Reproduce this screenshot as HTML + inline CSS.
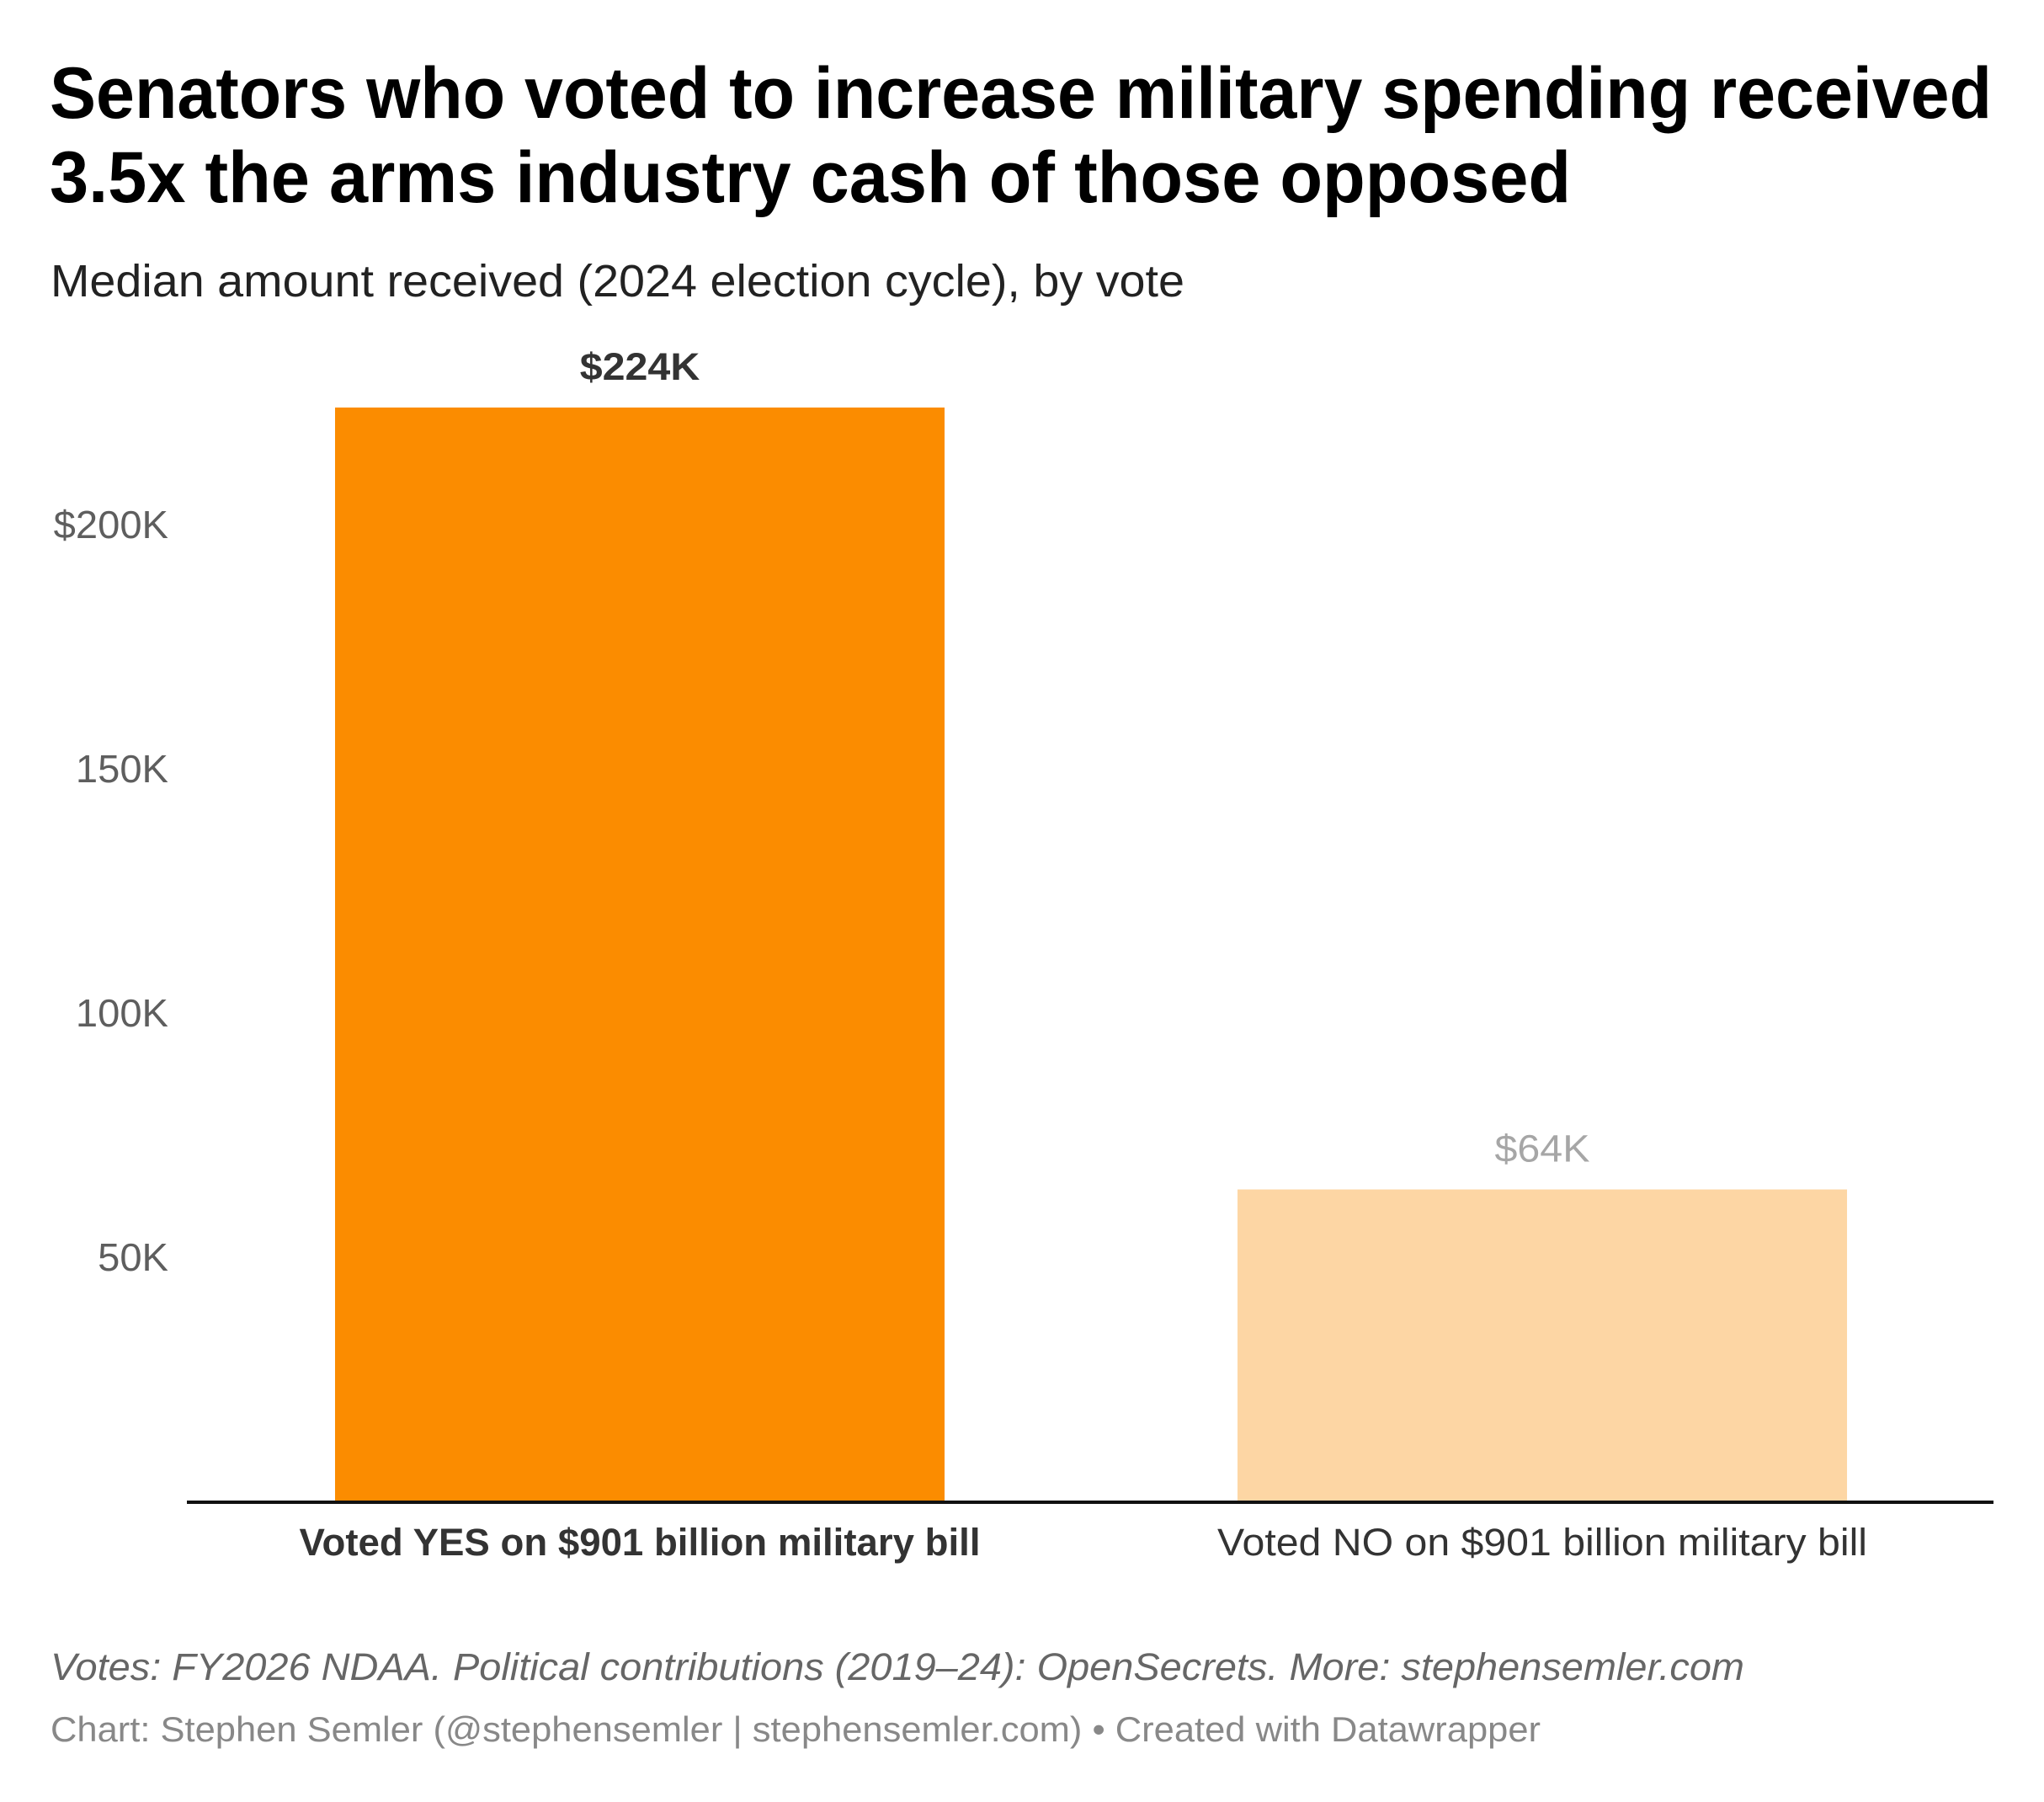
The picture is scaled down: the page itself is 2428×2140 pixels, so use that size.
<!DOCTYPE html>
<html lang="en">
<head>
<meta charset="utf-8">
<title>Senators who voted to increase military spending received 3.5x the arms industry cash of those opposed</title>
<style>
html,body{margin:0;padding:0;background:#fff;width:2428px;height:2140px;overflow:hidden}
svg{display:block}
text{font-family:"Liberation Sans",sans-serif}
</style>
</head>
<body>
<svg id="chart" xmlns="http://www.w3.org/2000/svg" width="2428" height="2140" viewBox="0 0 2428 2140">
  <rect x="0" y="0" width="2428" height="2140" fill="#ffffff"/>
  <text x="59" y="140" font-size="86" font-weight="700" fill="#000000" textLength="2307" lengthAdjust="spacingAndGlyphs">Senators who voted to increase military spending received</text>
  <text x="59" y="240" font-size="86" font-weight="700" fill="#000000" textLength="1807" lengthAdjust="spacingAndGlyphs">3.5x the arms industry cash of those opposed</text>
  <text x="60" y="352" font-size="54" fill="#222222" textLength="1347" lengthAdjust="spacingAndGlyphs">Median amount received (2024 election cycle), by vote</text>
  <g id="y-axis"></g>
  <g id="bars"></g>
  <line x1="222" y1="1784" x2="2368" y2="1784" stroke="#111111" stroke-width="4"/>
  <g id="x-axis"></g>
  <text x="60" y="1995" font-size="45" font-style="italic" fill="#666666" textLength="2012" lengthAdjust="spacingAndGlyphs">Votes: FY2026 NDAA. Political contributions (2019–24): OpenSecrets. More: stephensemler.com</text>
  <text x="60" y="2068" font-size="42" fill="#888888" textLength="1770" lengthAdjust="spacingAndGlyphs">Chart: Stephen Semler (@stephensemler | stephensemler.com) • Created with Datawrapper</text>
</svg>
<script>
const categories = ["Voted YES on $901 billion military bill", "Voted NO on $901 billion military bill"];
const seriesValues = [223.8, 63.7];
const valueLabels = ["$224K", "$64K"];
const tickValues = [50, 100, 150, 200];
const tickLabels = ["50K", "100K", "150K", "$200K"];

const NS = "http://www.w3.org/2000/svg";
const baselineY = 1782;
const pixelsPerThousand = 5.8;
const plotLeft = 224;
const plotRight = 2368;
const bandFraction = 0.6754;

function yScale(v) { return baselineY - v * pixelsPerThousand; }
function bandWidth() { return (plotRight - plotLeft) / categories.length; }
function xCenter(i) { return plotLeft + bandWidth() * (i + 0.5); }

function makeText(content, x, y, size, fill, anchor, weight) {
  const t = document.createElementNS(NS, "text");
  t.textContent = content;
  t.setAttribute("x", x);
  t.setAttribute("y", y);
  t.setAttribute("font-size", size);
  t.setAttribute("fill", fill);
  t.setAttribute("text-anchor", anchor);
  t.setAttribute("font-weight", weight);
  return t;
}

function stretch(t, factor) {
  t.setAttribute("textLength", t.getComputedTextLength() * factor);
  t.setAttribute("lengthAdjust", "spacingAndGlyphs");
}

const yAxis = document.getElementById("y-axis");
tickValues.forEach(function (v, i) {
  const t = makeText(tickLabels[i], 200, yScale(v) + 17, 46, "#5e5e5e", "end", 400);
  
  
  yAxis.appendChild(t);
  stretch(t, 1.025);
});

const barsGroup = document.getElementById("bars");
const barFills = ["#fb8c00", "#fdd6a4"];
const valueFills = ["#333333", "#a6a6a6"];
const valueWeights = [700, 400];
seriesValues.forEach(function (v, i) {
  const w = bandWidth() * bandFraction;
  const r = document.createElementNS(NS, "rect");
  r.setAttribute("x", xCenter(i) - w / 2);
  r.setAttribute("y", yScale(v));
  r.setAttribute("width", w);
  r.setAttribute("height", baselineY - yScale(v));
  r.setAttribute("fill", barFills[i]);
  
  
  barsGroup.appendChild(r);

  const t = makeText(valueLabels[i], xCenter(i), yScale(v) - 33, 45, valueFills[i], "middle", valueWeights[i]);
  
  
  barsGroup.appendChild(t);
  stretch(t, 1.075);
});

const xAxis = document.getElementById("x-axis");
const categoryWeights = [700, 400];
categories.forEach(function (c, i) {
  const t = makeText(c, xCenter(i), 1847, 45, "#333333", "middle", categoryWeights[i]);
  
  
  xAxis.appendChild(t);
  const target = categoryWeights[i] === 700 ? 809 : 772;
  t.setAttribute("textLength", target);
  t.setAttribute("lengthAdjust", "spacingAndGlyphs");
});
</script>
</body>
</html>
